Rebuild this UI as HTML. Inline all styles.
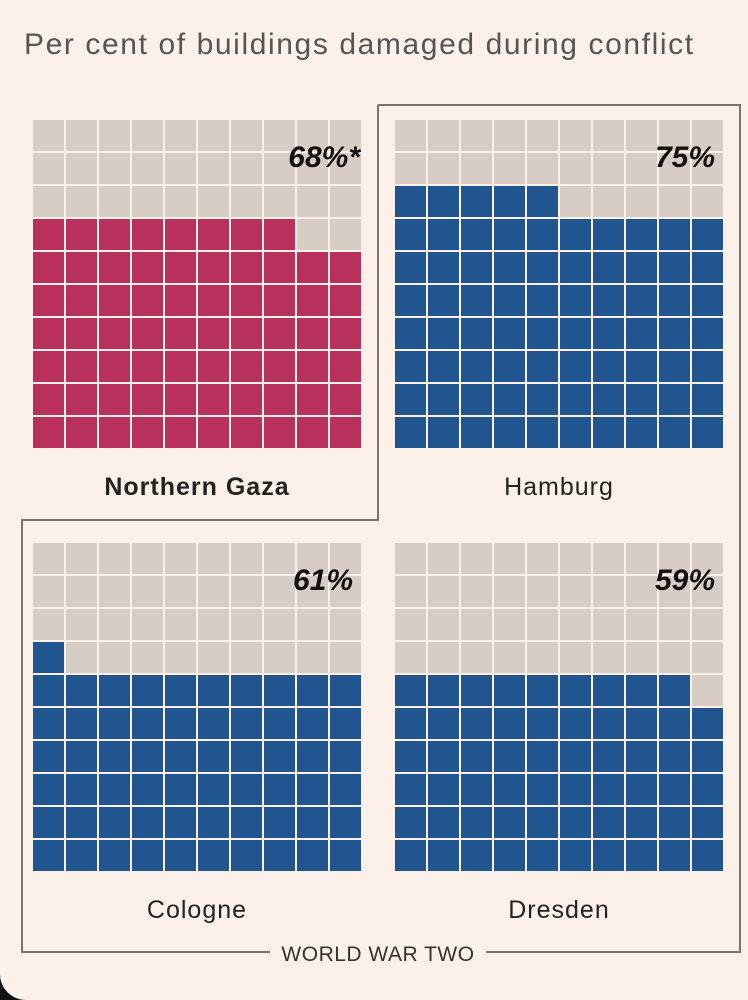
<!DOCTYPE html>
<html><head><meta charset="utf-8"><style>
html,body{margin:0;padding:0;background:#111;}
#wrap{position:relative;width:748px;height:1000px;background:#fcf1e8;border-bottom-left-radius:26px;overflow:hidden;font-family:"Liberation Sans",sans-serif;}
.t{position:absolute;white-space:nowrap;}
</style></head><body>
<div id="wrap">
<div class="t" style="left:24px;top:28px;font-size:30px;letter-spacing:1.6px;color:#555;">Per cent of buildings damaged during conflict</div>
<svg id="svg" width="748" height="1000" style="position:absolute;left:0;top:0">
<path d="M378,105 H740 V952 H486 M270,952 H22 V520 H378 V105" fill="none" stroke="#7a7470" stroke-width="2"/>
<text x="378" y="961" text-anchor="middle" font-size="21" letter-spacing="0.5" fill="#333" font-family="Liberation Sans, sans-serif">WORLD WAR TWO</text>
</svg>
</div>
<script>
const places=["Northern Gaza","Hamburg","Cologne","Dresden"];
const damaged=[68,75,61,59];
const pctLabels=["68%*","75%","61%","59%"];
const svg=document.getElementById('svg');
const NS='http://www.w3.org/2000/svg';
const origins=[[33,120],[395,120],[33,543],[395,543]];
const pitch=33, cellSize=31;
const fills=["#b8305c","#21558f","#21558f","#21558f"];
places.forEach((p,i)=>{
  const [ox,oy]=origins[i];
  const g=document.createElementNS(NS,'g');
  
  
  for(let k=0;k<100;k++){
    const row=9-Math.floor(k/10), col=k%10;
    const r=document.createElementNS(NS,'rect');
    r.setAttribute('x',ox+col*pitch);r.setAttribute('y',oy+row*pitch);
    r.setAttribute('width',cellSize);r.setAttribute('height',cellSize);
    r.setAttribute('fill',k<damaged[i]?fills[i]:'#d8cdc4');
    
    
    g.appendChild(r);
  }
  svg.appendChild(g);
  const t=document.createElementNS(NS,'text');
  t.setAttribute('x',ox+(i===0?327:320));t.setAttribute('y',oy+47);
  t.setAttribute('text-anchor','end');t.setAttribute('font-size','30');
  t.setAttribute('font-weight','bold');t.setAttribute('font-style','italic');
  t.setAttribute('fill','#111');t.setAttribute('font-family','Liberation Sans, sans-serif');
  t.textContent=pctLabels[i];
  
  
  svg.appendChild(t);
  const n=document.createElementNS(NS,'text');
  n.setAttribute('x',ox+164);n.setAttribute('y',oy+375);
  n.setAttribute('text-anchor','middle');n.setAttribute('font-size','25');
  n.setAttribute('letter-spacing','1');
  if(i===0)n.setAttribute('font-weight','bold');
  n.setAttribute('fill','#222');n.setAttribute('font-family','Liberation Sans, sans-serif');
  n.textContent=p;
  
  
  svg.appendChild(n);
});
</script>
</body></html>
